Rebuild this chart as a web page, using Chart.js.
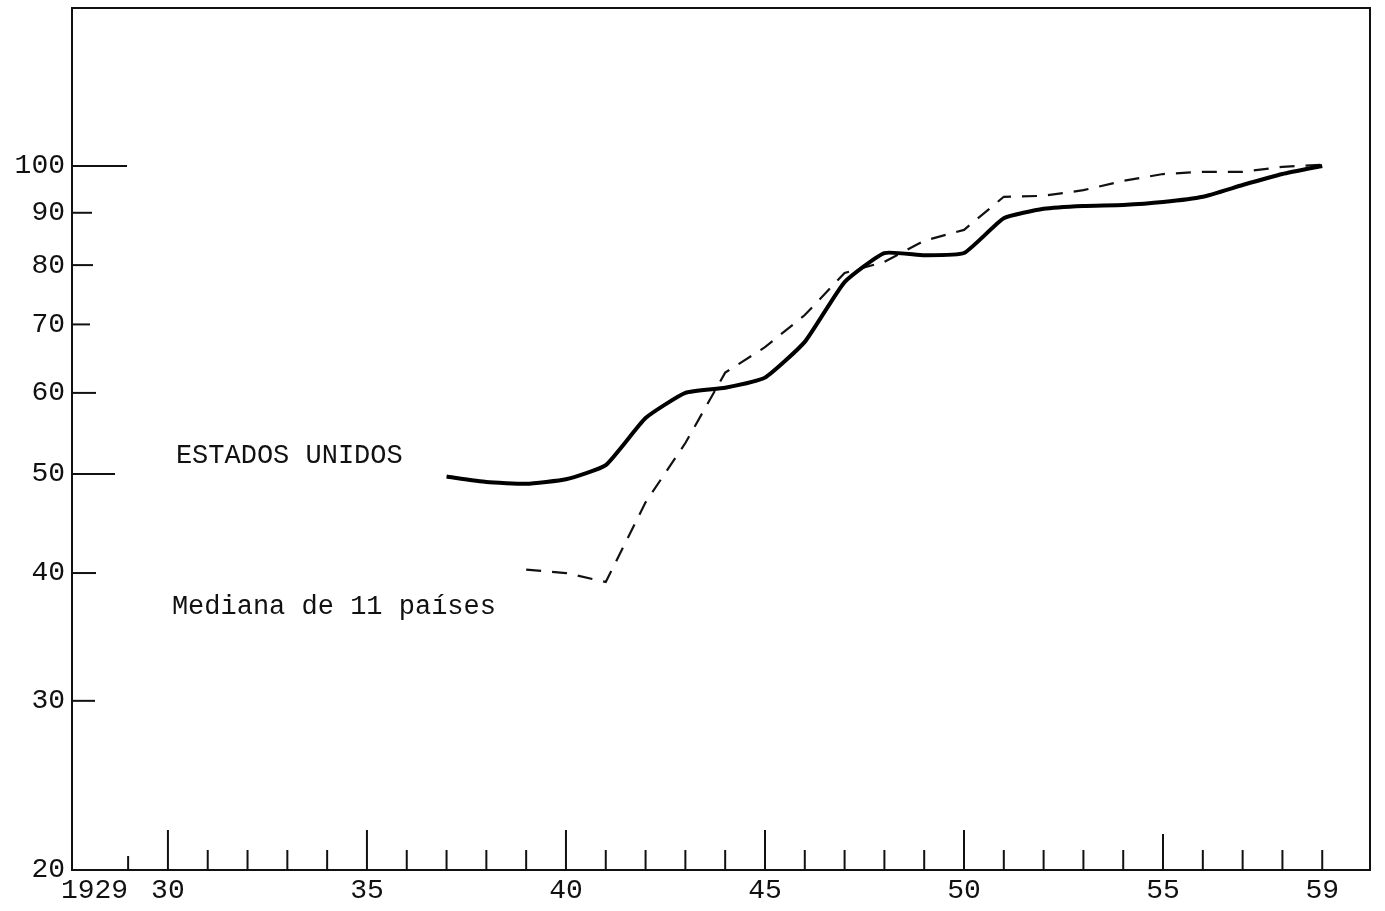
<!DOCTYPE html>
<html>
<head>
<meta charset="utf-8">
<script src="https://cdn.jsdelivr.net/npm/chart.js@4/dist/chart.umd.min.js"></script>
<style>
  body { margin: 0; background: #fff; }
  #wrap { width: 1385px; height: 911px; position: relative; }
</style>
</head>
<body>
<div id="wrap"><canvas id="chart"></canvas></div>
<script>
// years on the x axis
const years = [1929, 1930, 1931, 1932, 1933, 1934, 1935, 1936, 1937, 1938, 1939,
  1940, 1941, 1942, 1943, 1944, 1945, 1946, 1947, 1948, 1949,
  1950, 1951, 1952, 1953, 1954, 1955, 1956, 1957, 1958, 1959];

// Estados Unidos (solid line), index 1959 = 100
const estadosUnidos = [null, null, null, null, null, null, null, null, 49.7, 49.1, 48.9,
  49.4, 51.0, 56.7, 60.0, 60.7, 62.1, 67.3, 77.0, 82.2, 81.8,
  82.2, 88.9, 90.8, 91.4, 91.6, 92.2, 93.3, 95.8, 98.2, 100];

// Mediana de 11 paises (dashed line)
const mediana = [null, null, null, null, null, null, null, null, null, null, 40.3,
  40.0, 39.2, 46.9, 53.6, 62.8, 66.5, 71.5, 78.6, 80.6, 84.5,
  86.6, 93.3, 93.5, 94.7, 96.7, 98.2, 98.7, 98.7, 99.8, 100.3];

const yTickValues = [20, 30, 40, 50, 60, 70, 80, 90, 100];
const xLabelYears = [1929, 1930, 1935, 1940, 1945, 1950, 1955, 1959];

const Y_MIN = 20.5;
const Y_MAX = 142.7;

const toPoints = arr => years.map((yr, i) => ({ x: yr, y: arr[i] })).filter(p => p.y !== null);

// inward tick marks, border and the two text notes
const typewriterPlugin = {
  id: 'typewriter',
  afterDraw(chart) {
    const { ctx, chartArea: a, scales: { x, y } } = chart;
    ctx.save();
    ctx.strokeStyle = '#111';
    ctx.lineWidth = 2;

    // top and right frame
    ctx.beginPath();
    ctx.moveTo(a.left, a.top);
    ctx.lineTo(a.right, a.top);
    ctx.lineTo(a.right, a.bottom);
    ctx.stroke();

    // y ticks going into the plot
    const yLen = { 30: 23, 40: 24, 50: 43, 60: 24, 70: 18, 80: 21, 90: 20, 100: 55 };
    yTickValues.forEach(v => {
      if (!yLen[v]) return;
      const py = y.getPixelForValue(v);
      ctx.beginPath();
      ctx.moveTo(a.left, py);
      ctx.lineTo(a.left + yLen[v], py);
      ctx.stroke();
    });

    // x ticks going up from the axis
    years.forEach(yr => {
      let len = 20;
      if (yr === 1929) len = 14;
      else if (yr === 1955) len = 36;
      else if (yr % 5 === 0) len = 40;
      const px = x.getPixelForValue(yr);
      ctx.beginPath();
      ctx.moveTo(px, a.bottom);
      ctx.lineTo(px, a.bottom - len);
      ctx.stroke();
    });

    ctx.fillStyle = '#111';
    ctx.font = '27px "Liberation Mono"';
    ctx.textBaseline = 'middle';
    ctx.textAlign = 'left';
    ctx.fillText('ESTADOS UNIDOS', x.getPixelForValue(1930.2), y.getPixelForValue(52.1));
    ctx.fillText('Mediana de 11 países', x.getPixelForValue(1930.1), y.getPixelForValue(37.1));
    ctx.restore();
  }
};

const ctx = document.getElementById('chart').getContext('2d');
const chart = new Chart(ctx, {
  type: 'line',
  data: {
    datasets: [{
      label: 'ESTADOS UNIDOS',
      data: toPoints(estadosUnidos),
      borderColor: '#000',
      borderWidth: 4,
      pointRadius: 0,
      tension: 0.15,
      fill: false
    }, {
      label: 'Mediana de 11 países',
      data: toPoints(mediana),
      borderColor: '#111',
      borderWidth: 2.2,
      borderDash: [15, 11],
      pointRadius: 0,
      tension: 0,
      fill: false
    }]
  },
  options: {
    responsive: true,
    maintainAspectRatio: false,
    animation: false,
    layout: { padding: { top: 8, right: 15, left: 0, bottom: 0 } },
    plugins: {
      legend: { display: false },
      tooltip: { enabled: false }
    },
    scales: {
      x: {
        type: 'linear',
        min: 1927.59,
        max: 1960.2,
        grid: { display: false, drawTicks: false },
        border: { display: true, color: '#111', width: 2 },
        afterBuildTicks: scale => { scale.ticks = xLabelYears.map(v => ({ value: v })); },
        afterFit: scale => { scale.height = 41; scale.paddingLeft = 0; scale.paddingRight = 0; },
        ticks: {
          autoSkip: false,
          maxRotation: 0,
          padding: 4,
          color: '#111',
          font: { family: '"Liberation Mono"', size: 28 },
          callback: v => v === 1929 ? '1929    ' : String(v % 100).padStart(2, '0')
        }
      },
      y: {
        type: 'logarithmic',
        min: Y_MIN,
        max: Y_MAX,
        grid: { display: false, drawTicks: false },
        border: { display: true, color: '#111', width: 2 },
        afterBuildTicks: scale => {
          scale.ticks = yTickValues.map(v => ({ value: v === 20 ? Y_MIN : v }));
        },
        afterFit: scale => { scale.width = 72; scale.paddingTop = 0; scale.paddingBottom = 0; },
        ticks: {
          autoSkip: false,
          padding: 7,
          color: '#111',
          font: { family: '"Liberation Mono"', size: 28 },
          callback: v => v < 25 ? '20' : String(Math.round(v))
        }
      }
    }
  },
  plugins: [typewriterPlugin]
});
</script>
</body>
</html>
